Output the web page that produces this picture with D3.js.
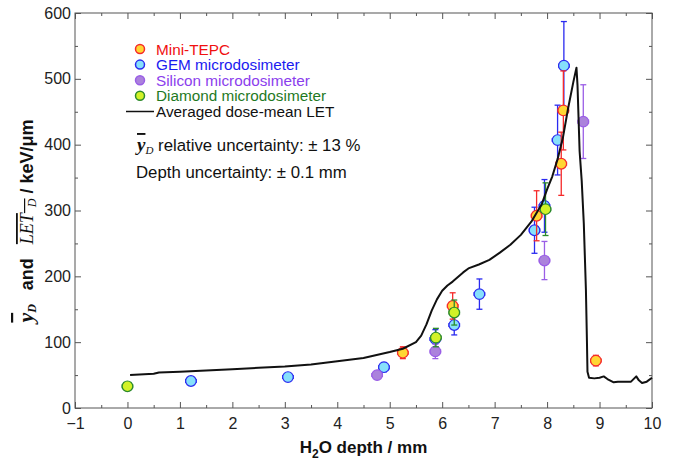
<!DOCTYPE html>
<html>
<head>
<meta charset="utf-8">
<script src="https://cdn.jsdelivr.net/npm/d3@7"></script>
<style>
  body { margin: 0; background: #fff; }
  svg { display: block; font-family: "Liberation Sans", Arial, sans-serif; }
</style>
</head>
<body>
<svg width="680" height="466"></svg>
<script>
// depth (mm), value (keV/um), vertical error
const tepcDepth = [5.25, 6.2, 7.8, 8.27, 8.31, 8.93];
const tepcValue = [84, 155, 292, 371, 452, 72];
const tepcErr   = [9, 20, 38, 48, 60, 8];

const gemDepth = [1.21, 3.06, 4.89, 5.87, 6.23, 6.71, 7.76, 7.95, 8.2, 8.32];
const gemValue = [41, 47, 62, 105, 126, 173, 270, 307, 407, 520];
const gemErr   = [4, 5, 7, 14, 15, 23, 35, 40, 53, 67];

const siDepth = [4.76, 5.87, 7.95, 8.69];
const siValue = [50, 86, 224, 435];
const siErr   = [5, 11, 29, 56];

const diaDepth = [0, 5.88, 6.23, 7.97];
const diaValue = [33, 107, 145, 302];
const diaErr   = [4, 14, 19, 40];

const depthErr = 0.1;

// averaged dose-mean LET curve
const letDepth = [0.05, 0.5, 0.6, 1, 1.5, 2, 2.5, 3, 3.5, 4, 4.5, 5, 5.25, 5.5, 5.6, 5.7, 5.8, 5.9, 6.0, 6.1, 6.2, 6.3, 6.4, 6.5, 6.7, 6.9, 7.1, 7.3, 7.5, 7.7, 7.9, 8.0, 8.1, 8.2, 8.3, 8.4, 8.5, 8.56, 8.58, 8.62, 8.66, 8.7, 8.74, 8.76, 8.77, 8.8, 8.9, 9.0, 9.08, 9.15, 9.27, 9.35, 9.45, 9.6, 9.7, 9.75, 9.81, 9.9, 10];
const letValue = [50, 52, 54, 55, 57, 59, 61, 63, 66, 71, 76, 85, 90, 100, 110, 127, 148, 165, 178, 186, 192, 199, 206, 212, 218, 225, 236, 248, 263, 283, 310, 332, 352, 378, 410, 455, 495, 517, 490, 390, 345, 280, 180, 100, 55, 46, 45, 46, 48, 44, 39, 40, 40, 40, 48, 42, 38, 40, 46];

const xTicks = [-1, 0, 1, 2, 3, 4, 5, 6, 7, 8, 9, 10];
const yTicks = [0, 100, 200, 300, 400, 500, 600];

const series = [
  {name: 'GEM microdosimeter', depth: gemDepth, value: gemValue, err: gemErr, fill: '#86e0fb', edge: '#2a2af0', text: '#1b1bf0'},
  {name: 'Mini-TEPC', depth: tepcDepth, value: tepcValue, err: tepcErr, fill: '#ffd633', edge: '#f52a2a', text: '#f01010'},
  {name: 'Silicon microdosimeter', depth: siDepth, value: siValue, err: siErr, fill: '#ab82dc', edge: '#9a5ee6', text: '#8b3ded'},
  {name: 'Diamond microdosimeter', depth: diaDepth, value: diaValue, err: diaErr, fill: '#d2f227', edge: '#2c8a2c', text: '#1f7a1f'}
];
const legendOrder = ['Mini-TEPC', 'GEM microdosimeter', 'Silicon microdosimeter', 'Diamond microdosimeter'];

const svg = d3.select('svg');
const plotLeft = 75, plotRight = 652, plotTop = 13, plotBottom = 408;

const x = d3.scaleLinear().domain([-1, 10]).range([plotLeft, plotRight]);
const y = d3.scaleLinear().domain([0, 600]).range([plotBottom, plotTop]);

// frame with inward ticks
const axisColor = '#555';
const xMinor = d3.range(-0.5, 10, 1);
const yMinor = d3.range(50, 600, 100);

function styleAxis(g) {
  g.select('.domain').remove();
  g.selectAll('.tick line').attr('stroke', axisColor);
}

svg.append('g')
  .attr('transform', `translate(0,${plotBottom})`)
  .call(d3.axisBottom(x).tickValues(xTicks).tickSize(-6).tickPadding(10).tickFormat(d3.format('d')))
  .call(styleAxis)
  .call(g => g.selectAll('text').attr('font-size', 16).attr('fill', '#222'));
svg.append('g')
  .attr('transform', `translate(0,${plotBottom})`)
  .call(d3.axisBottom(x).tickValues(xMinor).tickSize(-3).tickFormat(''))
  .call(styleAxis);
svg.append('g')
  .attr('transform', `translate(0,${plotTop})`)
  .call(d3.axisTop(x).tickValues(xTicks).tickSize(-6).tickFormat(''))
  .call(styleAxis);
svg.append('g')
  .attr('transform', `translate(0,${plotTop})`)
  .call(d3.axisTop(x).tickValues(xMinor).tickSize(-3).tickFormat(''))
  .call(styleAxis);

svg.append('g')
  .attr('transform', `translate(${plotLeft},0)`)
  .call(d3.axisLeft(y).tickValues(yTicks).tickSize(-6).tickPadding(4))
  .call(styleAxis)
  .call(g => g.selectAll('text').attr('font-size', 16).attr('fill', '#222'));
svg.append('g')
  .attr('transform', `translate(${plotLeft},0)`)
  .call(d3.axisLeft(y).tickValues(yMinor).tickSize(-3).tickFormat(''))
  .call(styleAxis);
svg.append('g')
  .attr('transform', `translate(${plotRight},0)`)
  .call(d3.axisRight(y).tickValues(yTicks).tickSize(-6).tickFormat(''))
  .call(styleAxis);
svg.append('g')
  .attr('transform', `translate(${plotRight},0)`)
  .call(d3.axisRight(y).tickValues(yMinor).tickSize(-3).tickFormat(''))
  .call(styleAxis);

svg.append('rect')
  .attr('x', plotLeft).attr('y', plotTop)
  .attr('width', plotRight - plotLeft).attr('height', plotBottom - plotTop)
  .attr('fill', 'none').attr('stroke', axisColor).attr('stroke-width', 1);

// data points with error bars
series.forEach(s => {
  const pts = s.depth.map((d, i) => ({d: d, v: s.value[i], e: s.err[i]}));
  const g = svg.append('g');
  const eb = g.selectAll('g.eb').data(pts).join('g')
    .attr('stroke', s.edge).attr('stroke-width', 1.3).attr('fill', 'none');
  eb.append('line')
    .attr('x1', p => x(p.d)).attr('x2', p => x(p.d))
    .attr('y1', p => y(p.v - p.e)).attr('y2', p => y(p.v + p.e));
  eb.append('line')
    .attr('x1', p => x(p.d) - 3).attr('x2', p => x(p.d) + 3)
    .attr('y1', p => y(p.v + p.e)).attr('y2', p => y(p.v + p.e));
  eb.append('line')
    .attr('x1', p => x(p.d) - 3).attr('x2', p => x(p.d) + 3)
    .attr('y1', p => y(p.v - p.e)).attr('y2', p => y(p.v - p.e));
  eb.append('line')
    .attr('x1', p => x(p.d - depthErr)).attr('x2', p => x(p.d + depthErr))
    .attr('y1', p => y(p.v)).attr('y2', p => y(p.v));
  eb.append('line')
    .attr('x1', p => x(p.d - depthErr)).attr('x2', p => x(p.d - depthErr))
    .attr('y1', p => y(p.v) - 2).attr('y2', p => y(p.v) + 2);
  eb.append('line')
    .attr('x1', p => x(p.d + depthErr)).attr('x2', p => x(p.d + depthErr))
    .attr('y1', p => y(p.v) - 2).attr('y2', p => y(p.v) + 2);
  g.selectAll('circle').data(pts).join('circle')
    .attr('cx', p => x(p.d)).attr('cy', p => y(p.v))
    .attr('r', 5.3)
    .attr('fill', s.fill).attr('stroke', s.edge).attr('stroke-width', 1.2);
});

// LET curve
const letPts = letDepth.map((d, i) => [d, letValue[i]]);
svg.append('path')
  .datum(letPts)
  .attr('fill', 'none')
  .attr('stroke', '#111')
  .attr('stroke-width', 2)
  .attr('stroke-linejoin', 'round')
  .attr('d', d3.line().x(p => x(p[0])).y(p => y(p[1])));

// legend
const legend = svg.append('g');
legendOrder.forEach((name, i) => {
  const s = series.find(t => t.name === name);
  const ly = 49 + i * 15.6;
  legend.append('circle')
    .attr('cx', 140).attr('cy', ly).attr('r', 4.5)
    .attr('fill', s.fill).attr('stroke', s.edge).attr('stroke-width', 1.5);
  legend.append('text')
    .attr('x', 156).attr('y', ly + 5.5)
    .attr('font-size', 15.3).attr('fill', s.text)
    .text(s.name);
});
legend.append('line')
  .attr('x1', 126).attr('x2', 154).attr('y1', 111.5).attr('y2', 111.5)
  .attr('stroke', '#111').attr('stroke-width', 1.5);
legend.append('text')
  .attr('x', 156).attr('y', 117)
  .attr('font-size', 15.3).attr('fill', '#111')
  .text('Averaged dose-mean LET');

// annotations
const note1 = svg.append('text').attr('x', 137).attr('y', 151).attr('font-size', 16.8).attr('fill', '#111');
note1.append('tspan')
  .attr('font-family', '"Liberation Serif", "DejaVu Serif", serif')
  .attr('font-style', 'italic').attr('font-weight', 'bold').attr('font-size', 19)
  .attr('text-decoration', 'overline')
  .text('y');
note1.append('tspan')
  .attr('font-family', '"Liberation Serif", "DejaVu Serif", serif')
  .attr('font-style', 'italic').attr('font-size', 11).attr('dy', 3)
  .text('D');
note1.append('tspan').attr('dy', -3).text(' relative uncertainty: ± 13 %');

svg.append('text')
  .attr('x', 136).attr('y', 178)
  .attr('font-size', 16.8).attr('fill', '#111')
  .text('Depth uncertainty: ± 0.1 mm');

// x axis title
const xt = svg.append('text')
  .attr('x', (plotLeft + plotRight) / 2).attr('y', 453)
  .attr('text-anchor', 'middle')
  .attr('font-size', 17).attr('font-weight', 'bold').attr('fill', '#111');
xt.append('tspan').text('H');
xt.append('tspan').attr('font-size', 12).attr('dy', 5).text('2');
xt.append('tspan').attr('dy', -5).text('O depth / mm');

// y axis title
const serif = '"Liberation Serif", "DejaVu Serif", serif';
const yt = svg.append('text')
  .attr('transform', 'translate(33,221) rotate(-90)')
  .attr('text-anchor', 'middle')
  .attr('font-size', 18).attr('font-weight', 'bold').attr('fill', '#111');
yt.append('tspan')
  .attr('font-family', serif)
  .attr('font-style', 'italic').attr('font-size', 22)
  .attr('text-decoration', 'overline')
  .text('y');
yt.append('tspan')
  .attr('font-family', serif)
  .attr('font-style', 'italic').attr('font-size', 12).attr('dy', 3)
  .text('D');
yt.append('tspan').attr('dy', -3).attr('xml:space', 'preserve').text('\u2002 and \u2002');
yt.append('tspan')
  .attr('font-family', serif)
  .attr('font-style', 'italic').attr('font-weight', 'normal').attr('font-size', 18)
  .attr('text-decoration', 'overline')
  .text('LET');
yt.append('tspan')
  .attr('font-family', serif)
  .attr('font-style', 'italic').attr('font-weight', 'normal').attr('font-size', 12).attr('dy', 3)
  .attr('text-decoration', 'overline')
  .text('\u2002D');
yt.append('tspan').attr('dy', -3).text(' / keV/μm');
</script>
</body>
</html>
